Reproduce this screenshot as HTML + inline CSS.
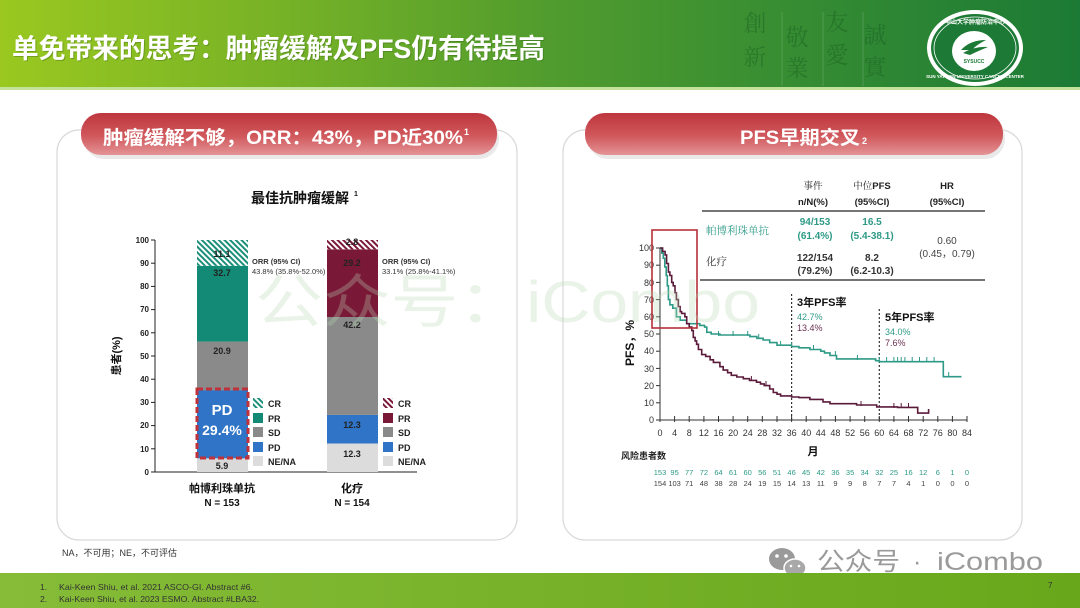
<!DOCTYPE html>
<html><head><meta charset="utf-8"><style>
html,body{margin:0;padding:0;background:#fff;}
svg{display:block;}
text{font-family:"Liberation Sans","Noto Sans CJK SC",sans-serif;}
.serif{font-family:"Liberation Serif","Noto Serif CJK SC",serif;}
</style></head><body>
<svg width="1080" height="608" viewBox="0 0 1080 608" xmlns="http://www.w3.org/2000/svg">
<defs>
<linearGradient id="hdr" x1="0" y1="0" x2="1" y2="0">
<stop offset="0" stop-color="#9ac820"/><stop offset="0.25" stop-color="#78b326"/><stop offset="0.52" stop-color="#4f9b2e"/><stop offset="0.7" stop-color="#3a8f32"/><stop offset="1" stop-color="#1b7a35"/>
</linearGradient>
<linearGradient id="ftr" x1="0" y1="0" x2="1" y2="0">
<stop offset="0" stop-color="#86bc38"/><stop offset="1" stop-color="#68a71b"/>
</linearGradient>
<linearGradient id="pill" x1="0" y1="0" x2="0" y2="1">
<stop offset="0" stop-color="#bd363d"/><stop offset="0.55" stop-color="#d0585c"/><stop offset="1" stop-color="#e49496"/>
</linearGradient>
<pattern id="hatchT" patternUnits="userSpaceOnUse" width="4" height="4" patternTransform="rotate(-45)">
<rect width="4" height="4" fill="#fff"/><rect width="2" height="4" fill="#1b8f79"/>
</pattern>
<pattern id="hatchM" patternUnits="userSpaceOnUse" width="4" height="4" patternTransform="rotate(-45)">
<rect width="4" height="4" fill="#fff"/><rect width="2" height="4" fill="#7a1838"/>
</pattern>
</defs>

<!-- Header -->
<rect x="0" y="0" width="1080" height="87" fill="url(#hdr)"/>
<rect x="0" y="87" width="1080" height="3" fill="#c2e29c"/>
<text x="13" y="59" font-size="27" font-weight="bold" fill="#2f5a10" opacity="0.35" textLength="533" lengthAdjust="spacingAndGlyphs">单免带来的思考：肿瘤缓解及PFS仍有待提高</text>
<text x="12" y="58" font-size="27" font-weight="bold" fill="#ffffff" textLength="533" lengthAdjust="spacingAndGlyphs">单免带来的思考：肿瘤缓解及PFS仍有待提高</text>

<!-- calligraphy -->
<g font-size="23" fill="#15571f" fill-opacity="0.4" text-anchor="middle">
<text x="755" y="31" class="serif">創</text><text x="755" y="65" class="serif">新</text>
<text x="797" y="45" class="serif">敬</text><text x="797" y="76" class="serif">業</text>
<text x="837" y="30" class="serif">友</text><text x="837" y="63" class="serif">愛</text>
<text x="875" y="43" class="serif">誠</text><text x="875" y="75" class="serif">實</text>
</g>
<g stroke="#ffffff" stroke-opacity="0.15" stroke-width="1">
<line x1="782" y1="12" x2="782" y2="86"/><line x1="823" y1="12" x2="823" y2="86"/><line x1="863" y1="12" x2="863" y2="86"/>
</g>
<!-- logo -->
<ellipse cx="975" cy="48" rx="48" ry="38" fill="#ffffff"/>
<ellipse cx="975" cy="48" rx="44" ry="34" fill="#1d7a36"/>
<ellipse cx="975" cy="48" rx="41" ry="31" fill="none" stroke="#ffffff" stroke-width="0.8"/>
<ellipse cx="974" cy="51" rx="22" ry="20" fill="#ffffff"/>
<path d="M961 50 Q970 40 986 40 Q976 45 972 50 Z" fill="#1d7a36"/>
<path d="M963 53 Q975 46 988 47 Q978 51 970 55 Z" fill="#1d7a36"/>
<text x="974" y="63" font-size="5" font-weight="bold" fill="#1d7a36" text-anchor="middle">SYSUCC</text>
<text x="975" y="24" font-size="6" font-weight="bold" fill="#fff" text-anchor="middle">中山大学肿瘤防治中心</text>
<text x="975" y="78" font-size="4.5" font-weight="bold" fill="#fff" text-anchor="middle">SUN YAT-SEN UNIVERSITY CANCER CENTER</text>

<!-- Panels -->
<rect x="57" y="130" width="460" height="410" rx="22" fill="#fff" stroke="#d9d9d9" stroke-width="1.2"/>
<rect x="563" y="130" width="459" height="410" rx="22" fill="#fff" stroke="#d9d9d9" stroke-width="1.2"/>

<!-- Pills -->
<rect x="84" y="118" width="415" height="41" rx="20" fill="#e9e9e9"/>
<rect x="81" y="113" width="416" height="42" rx="20" fill="url(#pill)"/>
<text x="103" y="144" font-size="19" font-weight="bold" fill="#fff" textLength="360" lengthAdjust="spacingAndGlyphs">肿瘤缓解不够，ORR：43%，PD近30%</text>
<text x="464" y="135" font-size="9" font-weight="bold" fill="#fff">1</text>

<rect x="588" y="118" width="417" height="41" rx="20" fill="#e9e9e9"/>
<rect x="585" y="113" width="418" height="42" rx="20" fill="url(#pill)"/>
<text x="740" y="144" font-size="19" font-weight="bold" fill="#fff" textLength="120" lengthAdjust="spacingAndGlyphs">PFS早期交叉</text>
<text x="862" y="144" font-size="9" font-weight="bold" fill="#fff">2</text>

<!-- LEFT CHART -->
<text x="300" y="203" font-size="14" font-weight="bold" fill="#111" text-anchor="middle">最佳抗肿瘤缓解</text>
<text x="354" y="196" font-size="7" font-weight="bold" fill="#111">1</text>

<g font-size="8" font-weight="bold" fill="#222" text-anchor="end">
<text x="149" y="475">0</text><text x="149" y="452">10</text><text x="149" y="428">20</text><text x="149" y="405">30</text><text x="149" y="382">40</text><text x="149" y="359">50</text><text x="149" y="336">60</text><text x="149" y="312">70</text><text x="149" y="289">80</text><text x="149" y="266">90</text><text x="149" y="243">100</text>
</g>
<g stroke="#222" stroke-width="1">
<line x1="155" y1="240" x2="155" y2="472"/><line x1="155" y1="472" x2="417" y2="472"/>
<line x1="151" y1="472" x2="155" y2="472"/><line x1="151" y1="448.8" x2="155" y2="448.8"/><line x1="151" y1="425.6" x2="155" y2="425.6"/><line x1="151" y1="402.4" x2="155" y2="402.4"/><line x1="151" y1="379.2" x2="155" y2="379.2"/><line x1="151" y1="356" x2="155" y2="356"/><line x1="151" y1="332.8" x2="155" y2="332.8"/><line x1="151" y1="309.6" x2="155" y2="309.6"/><line x1="151" y1="286.4" x2="155" y2="286.4"/><line x1="151" y1="263.2" x2="155" y2="263.2"/><line x1="151" y1="240" x2="155" y2="240"/>
</g>
<text transform="translate(120,356) rotate(-90)" font-size="11" font-weight="bold" fill="#111" text-anchor="middle">患者(%)</text>

<!-- bar1 -->
<rect x="197" y="458.3" width="51" height="13.7" fill="#d9d9d9"/>
<rect x="197" y="390.1" width="51" height="68.2" fill="#2f74c6"/>
<rect x="197" y="341.6" width="51" height="48.5" fill="#8a8a8a"/>
<rect x="197" y="265.8" width="51" height="75.8" fill="#128a75"/>
<rect x="197" y="240" width="51" height="25.8" fill="url(#hatchT)"/>
<!-- bar2 -->
<rect x="327" y="443.5" width="51" height="28.5" fill="#dcdcdc"/>
<rect x="327" y="414.9" width="51" height="28.6" fill="#2f74c6"/>
<rect x="327" y="317" width="51" height="97.9" fill="#8a8a8a"/>
<rect x="327" y="249.3" width="51" height="67.7" fill="#7a1838"/>
<rect x="327" y="240" width="51" height="9.3" fill="url(#hatchM)"/>

<g font-size="9" font-weight="bold" fill="#222" text-anchor="middle">
<text x="222" y="257">11.1</text><text x="222" y="276">32.7</text><text x="222" y="354">20.9</text><text x="222" y="469">5.9</text>
<text x="352" y="245">2.8</text><text x="352" y="266">29.2</text><text x="352" y="328">42.2</text><text x="352" y="428">12.3</text><text x="352" y="457">12.3</text>
</g>
<rect x="197" y="389" width="51" height="69" fill="none" stroke="#c0323a" stroke-width="3" stroke-dasharray="6,3"/>
<text x="222" y="415" font-size="15" font-weight="bold" fill="#fff" text-anchor="middle">PD</text>
<text x="222" y="435" font-size="14" font-weight="bold" fill="#fff" text-anchor="middle">29.4%</text>

<g font-size="7.5" fill="#333">
<text x="252" y="264" font-weight="bold">ORR (95% CI)</text><text x="252" y="274">43.8% (35.8%-52.0%)</text>
<text x="382" y="264" font-weight="bold">ORR (95% CI)</text><text x="382" y="274">33.1% (25.8%-41.1%)</text>
</g>
<!-- legends -->
<rect x="253" y="398" width="10" height="10" fill="url(#hatchT)"/>
<rect x="253" y="413" width="10" height="10" fill="#128a75"/>
<rect x="253" y="427" width="10" height="10" fill="#8a8a8a"/>
<rect x="253" y="442" width="10" height="10" fill="#2f74c6"/>
<rect x="253" y="456" width="10" height="10" fill="#dcdcdc"/>
<rect x="383" y="398" width="10" height="10" fill="url(#hatchM)"/>
<rect x="383" y="413" width="10" height="10" fill="#7a1838"/>
<rect x="383" y="427" width="10" height="10" fill="#8a8a8a"/>
<rect x="383" y="442" width="10" height="10" fill="#2f74c6"/>
<rect x="383" y="456" width="10" height="10" fill="#dcdcdc"/>
<g font-size="9" font-weight="bold" fill="#222">
<text x="268" y="407">CR</text><text x="268" y="422">PR</text><text x="268" y="436">SD</text><text x="268" y="451">PD</text><text x="268" y="465">NE/NA</text>
<text x="398" y="407">CR</text><text x="398" y="422">PR</text><text x="398" y="436">SD</text><text x="398" y="451">PD</text><text x="398" y="465">NE/NA</text>
</g>
<g font-weight="bold" fill="#111" text-anchor="middle">
<text x="222" y="492" font-size="11">帕博利珠单抗</text><text x="222" y="506" font-size="10">N = 153</text>
<text x="352" y="492" font-size="11">化疗</text><text x="352" y="506" font-size="10">N = 154</text>
</g>

<!-- RIGHT TABLE -->
<g text-anchor="middle" font-size="9.5" fill="#222">
<text x="813" y="189" class="serif">事件</text><text x="813" y="205" font-weight="bold">n/N(%)</text>
<text x="872" y="189" class="serif">中位<tspan font-family="Liberation Sans" font-weight="bold">PFS</tspan></text><text x="872" y="205" font-weight="bold">(95%CI)</text>
<text x="947" y="189" font-weight="bold">HR</text><text x="947" y="205" font-weight="bold">(95%CI)</text>
</g>
<line x1="702" y1="211" x2="985" y2="211" stroke="#222" stroke-width="1.2"/>
<text x="706" y="234" font-size="10.5" fill="#2e9a86" class="serif">帕博利珠单抗</text>
<text x="706" y="265" font-size="10.5" fill="#333" class="serif">化疗</text>
<g text-anchor="middle" font-size="10" font-weight="bold">
<text x="815" y="225" fill="#2e9a86">94/153</text><text x="815" y="239" fill="#2e9a86">(61.4%)</text>
<text x="872" y="225" fill="#2e9a86">16.5</text><text x="872" y="239" fill="#2e9a86">(5.4-38.1)</text>
<text x="815" y="261" fill="#333">122/154</text><text x="815" y="274" fill="#333">(79.2%)</text>
<text x="872" y="261" fill="#333">8.2</text><text x="872" y="274" fill="#333">(6.2-10.3)</text>
</g>
<g text-anchor="middle" font-size="10" fill="#444">
<text x="947" y="244">0.60</text><text x="947" y="257">(0.45，0.79)</text>
</g>
<line x1="700" y1="280" x2="985" y2="280" stroke="#222" stroke-width="1.2"/>

<!-- KM chart -->
<g stroke="#333" stroke-width="1">
<line x1="660" y1="248" x2="660" y2="420"/>
<line x1="660" y1="420" x2="967" y2="420"/>
</g>
<g stroke="#333" stroke-width="1">
<line x1="656" y1="420" x2="660" y2="420"/><line x1="656" y1="402.8" x2="660" y2="402.8"/><line x1="656" y1="385.6" x2="660" y2="385.6"/><line x1="656" y1="368.4" x2="660" y2="368.4"/><line x1="656" y1="351.2" x2="660" y2="351.2"/><line x1="656" y1="334" x2="660" y2="334"/><line x1="656" y1="316.8" x2="660" y2="316.8"/><line x1="656" y1="299.6" x2="660" y2="299.6"/><line x1="656" y1="282.4" x2="660" y2="282.4"/><line x1="656" y1="265.2" x2="660" y2="265.2"/><line x1="656" y1="248" x2="660" y2="248"/>
</g>
<g stroke="#333" stroke-width="1">
<line x1="660" y1="416" x2="660" y2="422"/><line x1="674.6" y1="416" x2="674.6" y2="422"/><line x1="689.2" y1="416" x2="689.2" y2="422"/><line x1="703.9" y1="416" x2="703.9" y2="422"/><line x1="718.5" y1="416" x2="718.5" y2="422"/><line x1="733.1" y1="416" x2="733.1" y2="422"/><line x1="747.7" y1="416" x2="747.7" y2="422"/><line x1="762.3" y1="416" x2="762.3" y2="422"/><line x1="777" y1="416" x2="777" y2="422"/><line x1="791.6" y1="416" x2="791.6" y2="422"/><line x1="806.2" y1="416" x2="806.2" y2="422"/><line x1="820.8" y1="416" x2="820.8" y2="422"/><line x1="835.4" y1="416" x2="835.4" y2="422"/><line x1="850.1" y1="416" x2="850.1" y2="422"/><line x1="864.7" y1="416" x2="864.7" y2="422"/><line x1="879.3" y1="416" x2="879.3" y2="422"/><line x1="893.9" y1="416" x2="893.9" y2="422"/><line x1="908.5" y1="416" x2="908.5" y2="422"/><line x1="923.2" y1="416" x2="923.2" y2="422"/><line x1="937.8" y1="416" x2="937.8" y2="422"/><line x1="952.4" y1="416" x2="952.4" y2="422"/><line x1="967" y1="416" x2="967" y2="422"/>
</g>
<g font-size="9" fill="#333" text-anchor="end">
<text x="654" y="423">0</text><text x="654" y="406">10</text><text x="654" y="389">20</text><text x="654" y="372">30</text><text x="654" y="354">40</text><text x="654" y="337">50</text><text x="654" y="320">60</text><text x="654" y="303">70</text><text x="654" y="286">80</text><text x="654" y="268">90</text><text x="654" y="251">100</text>
</g>
<g font-size="9" fill="#333" text-anchor="middle">
<text x="660" y="436">0</text><text x="674.6" y="436">4</text><text x="689.2" y="436">8</text><text x="703.9" y="436">12</text><text x="718.5" y="436">16</text><text x="733.1" y="436">20</text><text x="747.7" y="436">24</text><text x="762.3" y="436">28</text><text x="777" y="436">32</text><text x="791.6" y="436">36</text><text x="806.2" y="436">40</text><text x="820.8" y="436">44</text><text x="835.4" y="436">48</text><text x="850.1" y="436">52</text><text x="864.7" y="436">56</text><text x="879.3" y="436">60</text><text x="893.9" y="436">64</text><text x="908.5" y="436">68</text><text x="923.2" y="436">72</text><text x="937.8" y="436">76</text><text x="952.4" y="436">80</text><text x="967" y="436">84</text>
</g>
<text x="813" y="455" font-size="11" font-weight="bold" fill="#111" text-anchor="middle">月</text>
<text transform="translate(634,343) rotate(-90)" font-size="12" font-weight="bold" fill="#111" text-anchor="middle">PFS，%</text>

<!-- dotted lines -->
<line x1="791.6" y1="294" x2="791.6" y2="420" stroke="#333" stroke-width="1.2" stroke-dasharray="2,2"/>
<line x1="879.3" y1="309" x2="879.3" y2="420" stroke="#333" stroke-width="1.2" stroke-dasharray="2,2"/>
<text x="797" y="306" font-size="11" font-weight="bold" fill="#111">3年PFS率</text>
<text x="797" y="320" font-size="9" fill="#2e9a86">42.7%</text>
<text x="797" y="331" font-size="9" fill="#6a3050">13.4%</text>
<text x="885" y="321" font-size="11" font-weight="bold" fill="#111">5年PFS率</text>
<text x="885" y="335" font-size="9" fill="#2e9a86">34.0%</text>
<text x="885" y="346" font-size="9" fill="#6a3050">7.6%</text>

<!-- curves -->
<path d="M660,248 H661.8 V253.2 H663.3 V258.3 H664.8 V266.9 H666.2 V275.5 H667.3 V285.8 H668.4 V299.6 H669.9 V304.8 H672.8 V308.2 H676.4 V316.8 H680.1 V320.2 H686.7 V323.7 H699.8 V325.4 H704.6 V327.1 H706.8 V332.3 H711.2 V334 H719.9 V335 H749.9 V336.6 H756.9 V338.3 H763.1 V340 H769.7 V342.6 H777 V345.2 H791.6 V346.6 H798.9 V347.8 H809.9 V349.5 H820.8 V351.2 H824.5 V352.9 H830 V355.5 H836.5 V358.9 H875.6 V360.7 H879.3 V361.7 H943.3 V376.7 H961.5" fill="none" stroke="#2e9a86" stroke-width="1.6"/>
<path d="M660,248 H662.6 V251.4 H665.1 V254.9 H666.6 V263.5 H668.4 V272.1 H669.9 V275.5 H671.7 V282.4 H673.2 V285.8 H675 V292.7 H676.4 V299.6 H678.3 V306.5 H680.1 V311.6 H681.6 V313.4 H684.9 V316.8 H686.7 V323.7 H689.2 V327.1 H691.8 V330.6 H693.3 V337.4 H695.1 V340.9 H696.6 V344.3 H698.4 V349.5 H701.7 V354.6 H705.7 V356.4 H710.1 V359.8 H713.4 V362.4 H719.9 V366.7 H723.2 V370.1 H727.6 V372.7 H731.3 V375.3 H736.8 V377 H743.3 V378.7 H749.5 V380.4 H756.5 V382.2 H760.5 V383.9 H764.2 V385.6 H769.7 V389 H773.3 V392.5 H777 V394.2 H780.6 V395.9 H791.6 V397 H798.9 V397.6 H809.9 V399.4 H823 V401.9 H830 V403.7 H856.6 V405 H876.7 V406.9 H897.6 V407.4 H917.7 V413.1 H928.6 V409" fill="none" stroke="#5a1a3a" stroke-width="1.6"/>
<g stroke="#2e9a86" stroke-width="1">
<line x1="718.5" y1="331" x2="718.5" y2="336"/><line x1="733.1" y1="331" x2="733.1" y2="336"/><line x1="747.7" y1="331" x2="747.7" y2="336"/><line x1="758.7" y1="334" x2="758.7" y2="339"/><line x1="780.6" y1="341" x2="780.6" y2="346"/><line x1="791.6" y1="342" x2="791.6" y2="347"/><line x1="813.5" y1="345" x2="813.5" y2="350"/><line x1="835.4" y1="351" x2="835.4" y2="356"/><line x1="857.4" y1="355" x2="857.4" y2="360"/><line x1="879.3" y1="357" x2="879.3" y2="362"/><line x1="886.6" y1="357" x2="886.6" y2="362"/><line x1="893.9" y1="357" x2="893.9" y2="362"/><line x1="897.6" y1="357" x2="897.6" y2="362"/><line x1="901.2" y1="357" x2="901.2" y2="362"/><line x1="904.9" y1="357" x2="904.9" y2="362"/><line x1="912.2" y1="357" x2="912.2" y2="362"/><line x1="919.5" y1="357" x2="919.5" y2="362"/><line x1="926.8" y1="357" x2="926.8" y2="362"/><line x1="934.1" y1="357" x2="934.1" y2="362"/><line x1="948.7" y1="372" x2="948.7" y2="377"/>
</g>
<g stroke="#5a1a3a" stroke-width="1">
<line x1="751.4" y1="376" x2="751.4" y2="381"/><line x1="766" y1="381" x2="766" y2="386"/><line x1="861" y1="401" x2="861" y2="406"/><line x1="893.9" y1="403" x2="893.9" y2="408"/><line x1="901.2" y1="403" x2="901.2" y2="408"/><line x1="908.5" y1="403" x2="908.5" y2="408"/>
</g>
<!-- red box -->
<rect x="652" y="230" width="45" height="98" fill="none" stroke="#b53038" stroke-width="1.6"/>

<!-- risk table -->
<text x="621" y="459" font-size="9" font-weight="bold" fill="#222">风险患者数</text>
<g font-size="7.5" fill="#2e9a86" text-anchor="middle">
<text x="660" y="475">153</text><text x="674.6" y="475">95</text><text x="689.2" y="475">77</text><text x="703.9" y="475">72</text><text x="718.5" y="475">64</text><text x="733.1" y="475">61</text><text x="747.7" y="475">60</text><text x="762.3" y="475">56</text><text x="777" y="475">51</text><text x="791.6" y="475">46</text><text x="806.2" y="475">45</text><text x="820.8" y="475">42</text><text x="835.4" y="475">36</text><text x="850.1" y="475">35</text><text x="864.7" y="475">34</text><text x="879.3" y="475">32</text><text x="893.9" y="475">25</text><text x="908.5" y="475">16</text><text x="923.2" y="475">12</text><text x="937.8" y="475">6</text><text x="952.4" y="475">1</text><text x="967" y="475">0</text>
</g>
<g font-size="7.5" fill="#444" text-anchor="middle">
<text x="660" y="486">154</text><text x="674.6" y="486">103</text><text x="689.2" y="486">71</text><text x="703.9" y="486">48</text><text x="718.5" y="486">38</text><text x="733.1" y="486">28</text><text x="747.7" y="486">24</text><text x="762.3" y="486">19</text><text x="777" y="486">15</text><text x="791.6" y="486">14</text><text x="806.2" y="486">13</text><text x="820.8" y="486">11</text><text x="835.4" y="486">9</text><text x="850.1" y="486">9</text><text x="864.7" y="486">8</text><text x="879.3" y="486">7</text><text x="893.9" y="486">7</text><text x="908.5" y="486">4</text><text x="923.2" y="486">1</text><text x="937.8" y="486">0</text><text x="952.4" y="486">0</text><text x="967" y="486">0</text>
</g>

<!-- faint big watermark -->
<text x="255" y="322" font-size="58" fill="#b9d8b4" fill-opacity="0.3" textLength="505" lengthAdjust="spacingAndGlyphs">公众号：iCombo</text>

<!-- notes -->
<text x="62" y="556" font-size="9" fill="#333">NA，不可用；NE，不可评估</text>

<!-- bottom watermark -->
<ellipse cx="782" cy="559" rx="13" ry="11" fill="#9a9a9a"/>
<ellipse cx="795" cy="568" rx="11" ry="9" fill="#a8a8a8" stroke="#fff" stroke-width="1.5"/>
<circle cx="777" cy="556" r="1.8" fill="#fff"/><circle cx="786" cy="556" r="1.8" fill="#fff"/>
<circle cx="791" cy="566" r="1.3" fill="#fff"/><circle cx="799" cy="566" r="1.3" fill="#fff"/>

<!-- Footer -->
<rect x="0" y="573" width="1080" height="35" fill="url(#ftr)"/>
<text x="817" y="570" font-size="25" fill="#9a9a9a" textLength="83" lengthAdjust="spacingAndGlyphs">公众号</text>
<text x="913" y="570" font-size="25" fill="#9a9a9a">·</text>
<text x="937" y="570" font-size="25" fill="#9a9a9a" textLength="106" lengthAdjust="spacingAndGlyphs">iCombo</text>
<g font-size="8.5" fill="#333">
<text x="40" y="590">1.</text><text x="59" y="590" textLength="194" lengthAdjust="spacingAndGlyphs">Kai-Keen Shiu, et al. 2021 ASCO-GI. Abstract  #6.</text>
<text x="40" y="602">2.</text><text x="59" y="602" textLength="200" lengthAdjust="spacingAndGlyphs">Kai-Keen Shiu, et al. 2023 ESMO. Abstract #LBA32.</text>
</g>
<text x="1048" y="588" font-size="8" fill="#333">7</text>
</svg>
</body></html>
